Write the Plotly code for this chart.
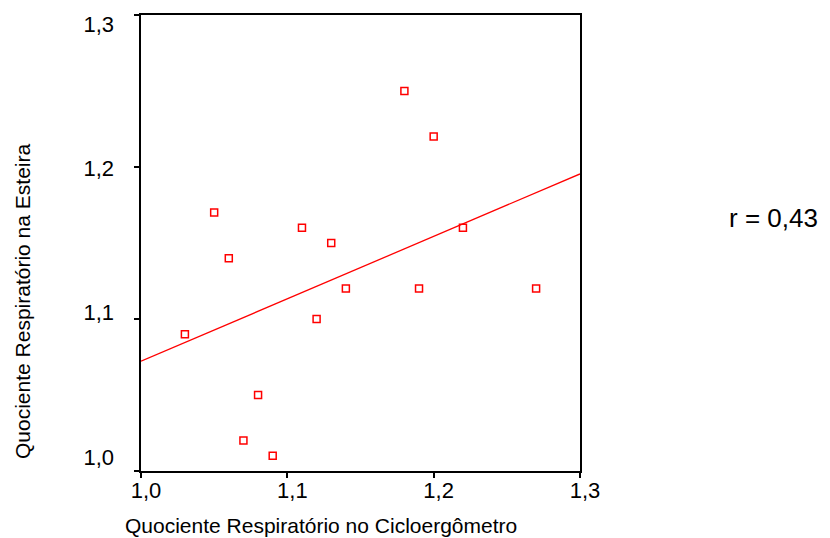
import numpy as np
import plotly.graph_objects as go

x_ciclo = [1.03, 1.05, 1.06, 1.07, 1.08, 1.09, 1.11, 1.12, 1.13, 1.14, 1.18, 1.19, 1.20, 1.22, 1.27]
y_esteira = [1.09, 1.17, 1.14, 1.02, 1.05, 1.01, 1.16, 1.10, 1.15, 1.12, 1.25, 1.12, 1.22, 1.16, 1.12]
r_label = "r = 0,43"
tick_vals = [1.0, 1.1, 1.2, 1.3]

slope, intercept = np.polyfit(x_ciclo, y_esteira, 1)
line_x = [1.0, 1.3]
line_y = [intercept + slope * v for v in line_x]

FONT = "Liberation Sans, Arial"

fig = go.Figure()
# invisible traces to activate the label-only axes (drawn first, underneath)
fig.add_trace(go.Scatter(x=[None], y=[None], xaxis="x2", yaxis="y", showlegend=False,
                         hoverinfo="skip"))
fig.add_trace(go.Scatter(x=[None], y=[None], xaxis="x", yaxis="y2", showlegend=False,
                         hoverinfo="skip"))
fig.add_trace(go.Scatter(x=line_x, y=line_y, mode="lines",
                         line=dict(color="#ff0000", width=1.3), hoverinfo="skip"))
fig.add_trace(go.Scatter(x=x_ciclo, y=y_esteira, mode="markers",
                         marker=dict(symbol="square-open", size=7,
                                     color="#ff0000", line=dict(width=1.5, color="#ff0000"))))

# plot region: x 141..585 (444 px wide), main axis uses 141..580, y 15..471
W = 444.0
fig.update_layout(
    width=830, height=538, showlegend=False,
    separators=",.",
    paper_bgcolor="white", plot_bgcolor="rgba(0,0,0,0)",
    margin=dict(l=141, r=245, t=15, b=67, autoexpand=False),
    xaxis=dict(domain=[0, 439 / W], range=[1.0, 1.3], tickvals=tick_vals, showticklabels=False,
               showgrid=False, zeroline=False, showline=True, linecolor="black",
               linewidth=1.5, mirror=True, ticks="outside", ticklen=5,
               tickwidth=1.5, tickcolor="black"),
    yaxis=dict(range=[1.0, 1.3], tickvals=tick_vals, showticklabels=False,
               showgrid=False, zeroline=False, showline=True, linecolor="black",
               linewidth=1.5, mirror=True, ticks="outside", ticklen=5,
               tickwidth=1.5, tickcolor="black"),
    # label-only axes (tick labels in the original sit slightly off the ticks)
    xaxis2=dict(domain=[5 / W, 1], anchor="y", side="bottom", range=[1.0, 1.3],
                tickvals=tick_vals, tickformat=".1f", showgrid=False, zeroline=False,
                showline=False, ticks="", ticklabelstandoff=4,
                tickfont=dict(family=FONT, size=22, color="black")),
    yaxis2=dict(overlaying="y", side="left", range=[0.9903, 1.30624],
                tickvals=tick_vals, tickformat=".1f", showgrid=False, zeroline=False,
                showline=False, ticks="", ticklabelstandoff=26,
                tickfont=dict(family=FONT, size=22, color="black")),
    annotations=[
        dict(text="Quociente Respiratório no Cicloergômetro", xref="paper", yref="paper",
             x=(321 - 141) / W, y=-(525 - 471) / 456, showarrow=False,
             xanchor="center", yanchor="middle",
             font=dict(family=FONT, size=21, color="black")),
        dict(text="Quociente Respiratório na Esteira", xref="paper", yref="paper",
             x=-(141 - 22) / W, y=(471 - 302) / 456, showarrow=False, textangle=-90,
             xanchor="center", yanchor="middle",
             font=dict(family=FONT, size=21, color="black")),
        dict(text=r_label, xref="paper", yref="paper",
             x=(773 - 141) / W, y=(471 - 218) / 456, showarrow=False,
             xanchor="center", yanchor="middle",
             font=dict(family=FONT, size=26, color="black")),
    ],
)

fig.write_html("out.html")
